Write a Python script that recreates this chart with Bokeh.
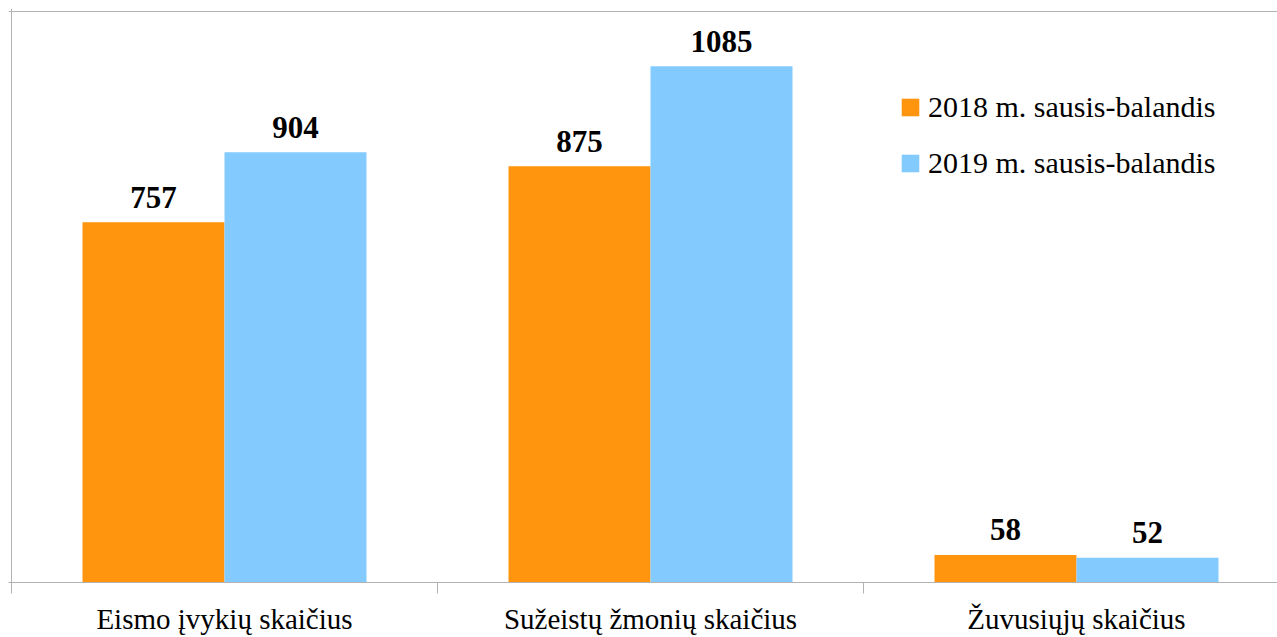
from bokeh.plotting import figure
from bokeh.models import ColumnDataSource, FixedTicker, Span, Legend, LegendItem, Range1d
from bokeh.core.properties import value
from bokeh.embed import file_html
from bokeh.resources import INLINE

categories = ["Eismo įvykių skaičius", "Sužeistų žmonių skaičius", "Žuvusiųjų skaičius"]
series_names = ["2018 m. sausis-balandis", "2019 m. sausis-balandis"]
values_2018 = [757, 875, 58]
values_2019 = [904, 1085, 52]
colors = ["#ff950e", "#83caff"]

GRAY = "#b3b3b3"
FONT = "Liberation Serif"

px_per_cat = 426.0
W, H = 1277, 637
left_border = 8
top_border = 8
bottom_border = 55
frame_h = H - top_border - bottom_border
frame_w = W - left_border

x_start = -3.0 / px_per_cat
x_end = x_start + frame_w / px_per_cat
y_end = 1200.0 * frame_h / 571.0

p = figure(width=W, height=H, output_backend="svg", toolbar_location=None,
           x_range=Range1d(x_start, x_end), y_range=Range1d(0, y_end),
           y_axis_location=None, min_border_left=left_border, min_border_right=0,
           min_border_top=top_border, min_border_bottom=bottom_border)
p.outline_line_color = None
p.grid.visible = False
p.background_fill_color = "white"
p.border_fill_color = "white"

centers = [i + 0.5 for i in range(len(categories))]
renderers = []
for k, vals in enumerate([values_2018, values_2019]):
    xs = [c + (k - 0.5) / 3.0 for c in centers]
    src = ColumnDataSource(dict(x=xs, top=vals, label=[str(v) for v in vals]))
    r = p.vbar(x="x", top="top", width=1.0 / 3.0, bottom=0, source=src,
               fill_color=colors[k], line_color=None)
    renderers.append(r)
    p.text(x="x", y="top", text="label", source=src, text_align="center",
           text_baseline="alphabetic", y_offset=-25,
           text_font=value(FONT), text_font_style="bold", text_font_size="31px",
           text_color="black")

# frame lines
p.add_layout(Span(location=0, dimension="height", line_color=GRAY, line_width=1))
p.add_layout(Span(location=1200, dimension="width", line_color=GRAY, line_width=1))

ax = p.xaxis[0]
ax.ticker = FixedTicker(ticks=centers, minor_ticks=[0, 1, 2, 3])
ax.major_label_overrides = {c: name for c, name in zip(centers, categories)}
ax.axis_line_color = GRAY
ax.axis_line_width = 1
ax.major_tick_line_color = None
ax.major_tick_out = 0
ax.major_tick_in = 0
ax.minor_tick_line_color = GRAY
ax.minor_tick_out = 11
ax.minor_tick_in = 0
ax.major_label_standoff = 9
ax.major_label_text_font = FONT
ax.major_label_text_font_size = "29px"
ax.major_label_text_color = "black"

legend = Legend(items=[LegendItem(label=series_names[i], renderers=[renderers[i]]) for i in range(2)],
                location=(891, 402))
legend.glyph_width = 22
legend.glyph_height = 22
legend.label_standoff = 7
legend.label_text_font = FONT
legend.label_text_font_size = "30px"
legend.label_text_color = "black"
legend.label_height = 30
legend.spacing = 22
legend.padding = 0
legend.margin = 0
legend.border_line_color = None
legend.background_fill_alpha = 0
p.add_layout(legend)

open("out.html", "w").write(file_html(p, INLINE))
